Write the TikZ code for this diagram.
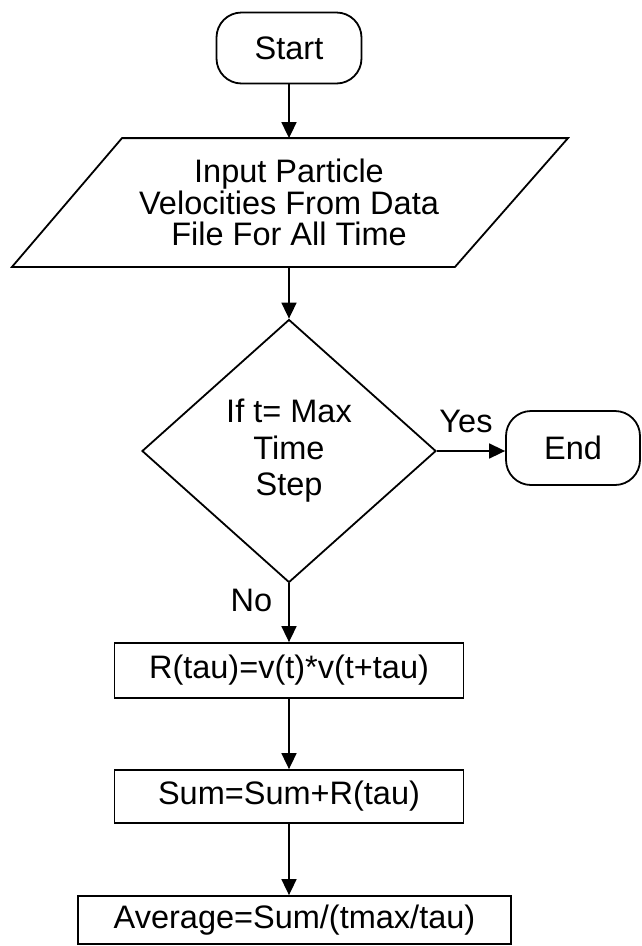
\documentclass[tikz,border=0pt]{standalone}
\usepackage{fontspec}
\setmainfont{Liberation Sans}
\usetikzlibrary{shapes.geometric,arrows.meta}
\begin{document}
\begin{tikzpicture}[x=1pt,y=-1pt,
  line width=1.8pt,
  every node/.style={font=\fontsize{32.5}{31.5}\selectfont, align=center, inner sep=0pt},
  term/.style={draw, rounded corners=25pt, minimum width=145pt, minimum height=71pt},
  procbox/.style={draw, minimum height=54pt},
  decbox/.style={diamond, draw, aspect=1.118, minimum width=294pt, minimum height=263pt,
     font=\fontsize{32.5}{36.5}\selectfont},
  flow/.style={-{Triangle[length=16pt,width=15pt]}, line width=1.7pt}]
\useasboundingbox (0,0) rectangle (642,946);
\fill[white] (0,0) rectangle (642,946);

\node[term] (start) at (289,48) {Start};
\node[minimum width=340pt, minimum height=127pt] (input) at (289,202.5)
  {Input Particle\\Velocities From Data\\File For All Time};
\draw ([xshift=-167pt]input.north) -- ([xshift=279pt]input.north)
   -- ([xshift=166pt]input.south) -- ([xshift=-277pt]input.south) -- cycle;
\node[decbox] (dec) at (289,451) {If t= Max\\Time\\Step};
\node[term, minimum width=134pt, minimum height=74pt] (end) at (573,448) {End};
\node[procbox, minimum width=349pt, minimum height=55pt] (corr) at (289,670.5) {R(tau)=v(t)*v(t+tau)};
\node[procbox, minimum width=349pt, minimum height=53pt] (sum) at (289,796.5) {Sum=Sum+R(tau)};
\node[procbox, minimum width=433pt, minimum height=48pt] (avg) at (294.5,920) {Average=Sum/(tmax/tau)};

\node[anchor=east] (no) at (273,600) {No};
\node (yes) at (466,421) {Yes};

\draw[flow] (start.south) -- (input.north);
\draw[flow] (input.south) -- (dec.north);
\draw[flow] (dec.east) -- (dec.east -| end.west);
\draw[flow] (dec.south) -- (corr.north);
\draw[flow] (corr.south) -- (sum.north);
\draw[flow] (sum.south) -- (sum.south |- avg.north);
\end{tikzpicture}
\end{document}
